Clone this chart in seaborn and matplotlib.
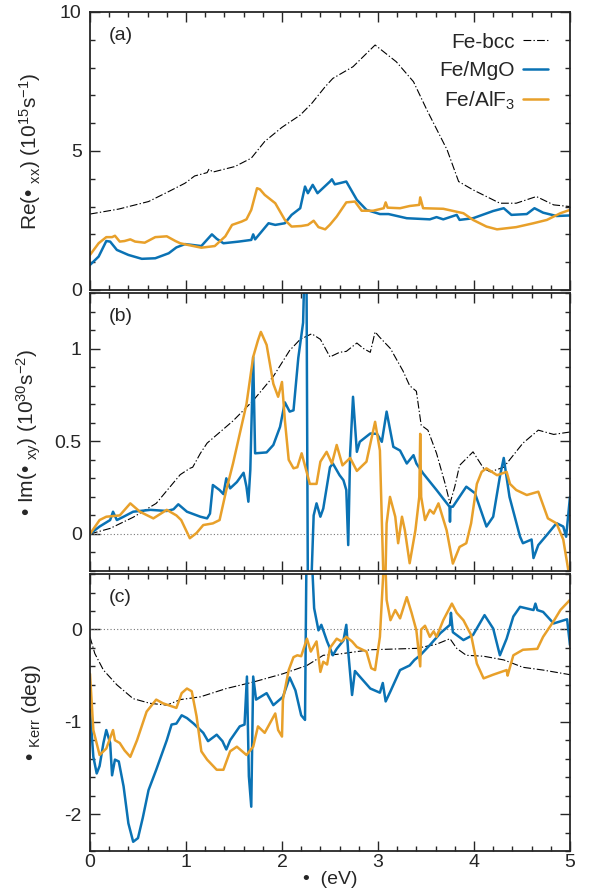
import numpy as np
import matplotlib
matplotlib.use("Agg")
import matplotlib.pyplot as plt
import seaborn as sns
from matplotlib.ticker import MultipleLocator


BLUE = "#0a72b4"
ORANGE = "#e8a02a"
BLACK = "#000000"

# ---- panel (a): Re(sigma_xx) ----
a_bcc_x = [0, 0.30, 0.61, 0.82, 0.99, 1.09, 1.22, 1.24, 1.28, 1.51, 1.68, 1.82, 2.0, 2.19, 2.31,
           2.45, 2.53, 2.74, 2.97, 3.19, 3.37, 3.51, 3.72, 3.84, 3.99, 4.27, 4.44, 4.65, 4.83, 5.0]
a_bcc_y = [2.73, 2.91, 3.18, 3.54, 3.84, 4.10, 4.22, 4.35, 4.24, 4.44, 4.74, 5.34, 5.85, 6.29, 6.71,
           7.31, 7.61, 8.03, 8.81, 8.21, 7.49, 6.47, 5.04, 3.90, 3.60, 3.12, 3.12, 3.36, 3.06, 3.00]

a_mgo_x = [0, 0.09, 0.17, 0.21, 0.28, 0.40, 0.54, 0.68, 0.82, 0.90, 0.99, 1.16, 1.27, 1.32, 1.39,
           1.55, 1.68, 1.70, 1.72, 1.86, 1.93, 2.03, 2.10, 2.19, 2.24, 2.27, 2.32, 2.37, 2.50, 2.52,
           2.55, 2.60, 2.67, 2.71, 2.78, 2.88, 3.02, 3.11, 3.30, 3.54, 3.61, 3.68, 3.82, 3.85, 3.99,
           4.20, 4.31, 4.39, 4.55, 4.63, 4.72, 4.86, 5.0]
a_mgo_y = [0.90, 1.20, 1.76, 1.74, 1.44, 1.26, 1.12, 1.14, 1.32, 1.53, 1.65, 1.58, 2.00, 1.84, 1.68,
           1.74, 1.80, 2.00, 1.82, 2.40, 2.34, 2.40, 2.70, 2.94, 3.72, 3.48, 3.78, 3.48, 3.90, 3.98,
           3.80, 3.84, 3.90, 3.66, 3.24, 2.88, 2.73, 2.73, 2.58, 2.54, 2.62, 2.54, 2.70, 2.52, 2.58,
           2.84, 2.94, 2.70, 2.73, 2.94, 2.78, 2.66, 2.68]

a_alf_x = [0, 0.09, 0.17, 0.23, 0.26, 0.31, 0.36, 0.42, 0.47, 0.57, 0.68, 0.80, 0.89, 0.94, 1.02,
           1.16, 1.30, 1.41, 1.48, 1.58, 1.63, 1.68, 1.74, 1.77, 1.82, 1.93, 2.03, 2.10, 2.20, 2.27,
           2.33, 2.38, 2.45, 2.50, 2.57, 2.67, 2.76, 2.83, 2.95, 3.06, 3.08, 3.10, 3.23, 3.33, 3.43,
           3.44, 3.47, 3.68, 3.89, 3.99, 4.13, 4.24, 4.44, 4.62, 4.76, 4.90, 5.0]
a_alf_y = [1.26, 1.68, 1.90, 1.90, 1.95, 1.74, 1.76, 1.82, 1.74, 1.70, 1.90, 1.93, 1.76, 1.68, 1.62,
           1.52, 1.58, 1.93, 2.34, 2.46, 2.54, 2.88, 3.66, 3.62, 3.42, 3.12, 2.52, 2.28, 2.30, 2.34,
           2.49, 2.26, 2.18, 2.35, 2.64, 3.15, 3.18, 2.85, 2.85, 2.94, 3.15, 2.96, 2.94, 3.02, 3.06,
           3.33, 2.94, 2.92, 2.76, 2.52, 2.28, 2.18, 2.26, 2.40, 2.52, 2.76, 2.88]

# ---- panel (b): omega Im(sigma_xy) ----
b_bcc_x = [0, 0.21, 0.45, 0.69, 0.94, 1.04, 1.07, 1.15, 1.22, 1.49, 1.70, 1.91, 2.08, 2.19, 2.31,
           2.40, 2.50, 2.60, 2.67, 2.78, 2.85, 2.92, 2.97, 3.02, 3.13, 3.26, 3.33, 3.40, 3.45, 3.52,
           3.61, 3.70, 3.75, 3.80, 3.85, 3.99, 4.10, 4.17, 4.31, 4.51, 4.67, 4.83, 5.0]
b_bcc_y = [0, 0.03, 0.09, 0.165, 0.32, 0.354, 0.36, 0.435, 0.49, 0.61, 0.72, 0.85, 0.99, 1.05, 1.08,
           1.05, 0.955, 0.98, 0.985, 1.03, 1.00, 0.98, 1.09, 1.06, 1.00, 0.88, 0.80, 0.77, 0.587, 0.56,
           0.435, 0.27, 0.165, 0.255, 0.37, 0.443, 0.354, 0.335, 0.36, 0.49, 0.56, 0.537, 0.55]

b_mgo_x = [0, 0.10, 0.21, 0.24, 0.28, 0.35, 0.45, 0.63, 0.80, 0.87, 0.92, 1.01, 1.15, 1.22, 1.25,
           1.28, 1.35, 1.39, 1.42, 1.46, 1.53, 1.60, 1.63, 1.65, 1.67, 1.70, 1.72, 1.84, 1.91, 1.98,
           2.03, 2.08, 2.12, 2.17, 2.22, 2.235, 2.255, 2.27, 2.30, 2.33, 2.36, 2.40, 2.43, 2.50, 2.53,
           2.60, 2.64, 2.67, 2.69, 2.71, 2.74, 2.78, 2.81, 2.92, 2.99, 3.04, 3.09, 3.16, 3.23, 3.30,
           3.37, 3.40, 3.47, 3.61, 3.745, 3.75, 3.755, 3.78, 3.92, 4.01, 4.13, 4.20, 4.27, 4.31, 4.37,
           4.48, 4.51, 4.60, 4.62, 4.67, 4.76, 4.86, 4.93, 4.96, 5.0]
b_mgo_y = [0, 0.04, 0.075, 0.12, 0.075, 0.093, 0.12, 0.13, 0.124, 0.133, 0.16, 0.12, 0.093, 0.084, 0.11,
           0.264, 0.237, 0.215, 0.30, 0.246, 0.28, 0.33, 0.255, 0.174, 0.345, 0.955, 0.435, 0.44, 0.48, 0.578,
           0.71, 0.66, 0.667, 0.95, 1.14, 1.45, 1.45, -0.35, -0.35, 0.10, 0.165, 0.093, 0.137, 0.36, 0.38,
           0.317, 0.29, 0.237, -0.06, 0.435, 0.74, 0.443, 0.497, 0.542, 0.54, 0.497, 0.66, 0.47, 0.45, 0.38,
           0.425, 0.38, 0.327, 0.237, 0.147, 0.066, 0.147, 0.147, 0.255, 0.22, 0.04, 0.093, 0.31, 0.41, 0.2,
           -0.015, -0.05, -0.03, -0.13, -0.06, -0.005, 0.058, 0.04, -0.015, 0.2]

b_alf_x = [0, 0.10, 0.17, 0.31, 0.42, 0.52, 0.66, 0.80, 0.90, 0.95, 1.04, 1.11, 1.18, 1.28, 1.35,
           1.42, 1.49, 1.56, 1.63, 1.70, 1.75, 1.78, 1.84, 1.91, 1.96, 2.00, 2.03, 2.07, 2.12, 2.16,
           2.205, 2.29, 2.36, 2.40, 2.465, 2.52, 2.57, 2.63, 2.71, 2.78, 2.88, 2.97, 3.02, 3.06, 3.075,
           3.09, 3.125, 3.18, 3.21, 3.25, 3.28, 3.33, 3.39, 3.43, 3.44, 3.45, 3.49, 3.54, 3.58, 3.63,
           3.715, 3.78, 3.85, 3.92, 3.97, 4.03, 4.08, 4.13, 4.24, 4.34, 4.375, 4.44, 4.55, 4.67, 4.77,
           4.86, 4.93, 5.0]
b_alf_y = [0, 0.075, 0.093, 0.10, 0.165, 0.12, 0.084, 0.13, 0.10, 0.075, -0.023, 0.005, 0.048, 0.057, 0.075,
           0.237, 0.38, 0.54, 0.70, 0.955, 1.045, 1.09, 1.02, 0.81, 0.74, 0.82, 0.614, 0.40, 0.354, 0.36,
           0.435, 0.27, 0.27, 0.39, 0.443, 0.38, 0.48, 0.37, 0.41, 0.34, 0.39, 0.605, 0.45, -0.3, -0.3,
           0.057, 0.2, 0.093, -0.05, 0.093, 0.02, -0.158, 0.02, 0.2, 0.54, 0.2, 0.075, 0.13, 0.11, 0.165,
           0.02, -0.16, -0.07, -0.05, 0.057, 0.27, 0.335, 0.354, 0.317, 0.335, 0.27, 0.237, 0.21, 0.228, 0.084,
           0.057, -0.03, -0.25]

# ---- panel (c): Kerr angle ----
c_bcc_x = [0, 0.05, 0.14, 0.28, 0.45, 0.625, 0.80, 0.94, 1.15, 1.42, 1.70, 2.01, 2.26, 2.43, 2.57,
           2.92, 3.40, 3.61, 3.75, 3.82, 3.92, 4.10, 4.31, 4.51, 4.72, 5.0]
c_bcc_y = [-0.08, -0.26, -0.44, -0.60, -0.75, -0.80, -0.82, -0.76, -0.73, -0.64, -0.57, -0.48, -0.39, -0.28, -0.27,
           -0.22, -0.205, -0.16, -0.10, -0.205, -0.28, -0.29, -0.33, -0.41, -0.44, -0.49]

c_mgo_x = [0, 0.035, 0.07, 0.10, 0.14, 0.17, 0.21, 0.23, 0.26, 0.30, 0.35, 0.40, 0.45, 0.50, 0.55,
           0.61, 0.69, 0.80, 0.85, 0.90, 0.955, 1.01, 1.08, 1.18, 1.23, 1.32, 1.38, 1.42, 1.46, 1.56,
           1.61, 1.635, 1.655, 1.68, 1.70, 1.73, 1.84, 1.91, 2.01, 2.08, 2.14, 2.20, 2.24, 2.255, 2.31,
           2.335, 2.38, 2.41, 2.47, 2.53, 2.57, 2.64, 2.67, 2.69, 2.73, 2.76, 2.81, 2.92, 3.02, 3.05,
           3.08, 3.13, 3.23, 3.33, 3.38, 3.44, 3.54, 3.65, 3.75, 3.76, 3.78, 3.89, 3.99, 4.11, 4.20,
           4.27, 4.34, 4.41, 4.48, 4.62, 4.64, 4.66, 4.72, 4.83, 4.97, 5.0]
c_mgo_y = [-0.87, -1.38, -1.56, -1.48, -1.23, -1.09, -1.23, -1.58, -1.41, -1.43, -1.70, -2.10, -2.30, -2.26, -2.04,
           -1.74, -1.52, -1.20, -1.03, -1.02, -0.93, -0.96, -1.02, -1.12, -1.21, -1.14, -1.21, -1.30, -1.20, -1.05,
           -1.03, -0.51, -1.59, -1.92, -0.51, -0.76, -0.69, -0.82, -0.73, -0.52, -0.66, -0.93, -0.98, 0.8, 0.8,
           0.23, -0.01, 0.05, -0.13, -0.28, -0.21, -0.12, 0.05, -0.24, -0.71, -0.45, -0.51, -0.64, -0.685, -0.58,
           -0.78, -0.67, -0.44, -0.39, -0.33, -0.28, -0.17, -0.04, 0.05, 0.18, -0.03, -0.115, -0.06, 0.155, 0.01,
           -0.28, -0.10, 0.14, 0.245, 0.21, 0.28, 0.21, 0.19, 0.065, 0.11, -0.17]

c_alf_x = [0, 0.035, 0.10, 0.17, 0.24, 0.26, 0.31, 0.36, 0.42, 0.49, 0.59, 0.69, 0.76, 0.90, 0.955,
           1.01, 1.06, 1.11, 1.16, 1.22, 1.32, 1.39, 1.46, 1.53, 1.63, 1.70, 1.75, 1.82, 1.93, 1.96,
           2.00, 2.01, 2.07, 2.12, 2.16, 2.20, 2.26, 2.30, 2.36, 2.40, 2.43, 2.47, 2.50, 2.57, 2.62,
           2.67, 2.73, 2.78, 2.88, 2.93, 2.97, 3.02, 3.065, 3.075, 3.09, 3.13, 3.18, 3.23, 3.30, 3.35,
           3.40, 3.44, 3.45, 3.49, 3.54, 3.58, 3.61, 3.68, 3.77, 3.82, 3.89, 3.97, 4.03, 4.10, 4.20,
           4.34, 4.35, 4.41, 4.51, 4.66, 4.72, 4.83, 4.90, 5.0]
c_alf_y = [-0.48, -1.09, -1.36, -1.29, -1.09, -1.20, -1.23, -1.31, -1.38, -1.20, -0.89, -0.76, -0.80, -0.85, -0.69,
           -0.64, -0.67, -0.94, -1.32, -1.41, -1.52, -1.52, -1.32, -1.27, -1.36, -1.27, -1.05, -1.12, -0.91, -1.09,
           -1.16, -0.76, -0.44, -0.30, -0.28, -0.29, -0.10, -0.24, -0.13, -0.46, -0.35, -0.38, -0.20, -0.10, -0.13,
           -0.08, -0.13, -0.19, -0.24, -0.42, -0.44, -0.08, 0.8, 0.8, 0.32, 0.10, 0.21, 0.12, 0.35, 0.18,
           -0.01, -0.40, 0.0, 0.04, -0.08, -0.02, -0.08, 0.10, 0.28, 0.18, 0.10, -0.06, -0.37, -0.53, -0.49,
           -0.44, -0.50, -0.28, -0.22, -0.21, -0.08, 0.09, 0.21, 0.32]

series_labels = ["Fe-bcc", "Fe/MgO", "Fe/AlF$_3$"]

sns.set_style("ticks")
plt.rcParams["font.family"] = ["Liberation Sans", "DejaVu Sans"]
plt.rcParams["mathtext.fontset"] = "custom"
plt.rcParams["mathtext.rm"] = "Liberation Sans"
plt.rcParams["mathtext.it"] = "Liberation Sans:italic"
plt.rcParams["mathtext.default"] = "rm"
plt.rcParams["axes.unicode_minus"] = False

fig = plt.figure(figsize=(5.92, 8.90), dpi=100)
fig.patch.set_facecolor("white")

left, width = 0.152, 0.8108
ax_a = fig.add_axes([left, 0.6742, width, 0.3124])
ax_b = fig.add_axes([left, 0.3584, width, 0.3124])
ax_c = fig.add_axes([left, 0.0438, width, 0.3112])

dashdot = (0, (7, 2, 1.2, 2))

panels = [
    (ax_a, (a_bcc_x, a_bcc_y), (a_mgo_x, a_mgo_y), (a_alf_x, a_alf_y)),
    (ax_b, (b_bcc_x, b_bcc_y), (b_mgo_x, b_mgo_y), (b_alf_x, b_alf_y)),
    (ax_c, (c_bcc_x, c_bcc_y), (c_mgo_x, c_mgo_y), (c_alf_x, c_alf_y)),
]

for i, (ax, bcc, mgo, alf) in enumerate(panels):
    first = i == 0
    if not first:
        ax.axhline(0, color="#777777", linestyle=(0, (1, 2)), linewidth=0.8, zorder=1)
    sns.lineplot(x=np.array(bcc[0]), y=np.array(bcc[1]), ax=ax, color=BLACK,
                 linewidth=0.8, linestyle=dashdot, estimator=None, sort=False,
                 label=series_labels[0] if first else None, legend=False)
    sns.lineplot(x=np.array(mgo[0]), y=np.array(mgo[1]), ax=ax, color=BLUE,
                 linewidth=1.8, estimator=None, sort=False,
                 label=series_labels[1] if first else None, legend=False)
    sns.lineplot(x=np.array(alf[0]), y=np.array(alf[1]), ax=ax, color=ORANGE,
                 linewidth=1.8, estimator=None, sort=False,
                 label=series_labels[2] if first else None, legend=False)

    ax.set_xlim(0, 5)
    ax.xaxis.set_major_locator(MultipleLocator(1))
    ax.xaxis.set_minor_locator(MultipleLocator(0.2))
    ax.tick_params(which="both", direction="in", top=True, right=True, width=1.0)
    ax.tick_params(which="major", length=7, labelsize=14)
    ax.tick_params(axis="y", which="major", pad=6)
    ax.tick_params(axis="x", which="major", pad=2)
    ax.tick_params(which="minor", length=3.5)
    for sp in ax.spines.values():
        sp.set_linewidth(1.3)
    if ax is not ax_c:
        ax.tick_params(labelbottom=False)
    ax.set_xlabel("")

ax_a.set_ylim(0, 10)
ax_a.yaxis.set_major_locator(MultipleLocator(5))
ax_a.yaxis.set_minor_locator(MultipleLocator(1))

ax_b.set_ylim(-0.2, 1.3)
ax_b.set_yticks([0, 0.5, 1])
ax_b.set_yticklabels(["0", "0.5", "1"])
ax_b.yaxis.set_minor_locator(MultipleLocator(0.1))

ax_c.set_ylim(-2.4, 0.6)
ax_c.set_yticks([-2, -1, 0])
ax_c.yaxis.set_minor_locator(MultipleLocator(0.2))

ax_a.set_ylabel("Re(• $_{xx}$) (10$^{15}$s$^{-1}$)", fontsize=15)
ax_b.set_ylabel("• Im(• $_{xy}$) (10$^{30}$s$^{-2}$)", fontsize=15)
ax_c.set_ylabel("• $_{Kerr}$ (deg)", fontsize=15)
ax_c.set_xlabel("•  (eV)", fontsize=14, labelpad=0)
for ax in (ax_a, ax_b, ax_c):
    ax.yaxis.set_label_coords(-0.097, 0.5)

for ax, tag in zip((ax_a, ax_b, ax_c), ("(a)", "(b)", "(c)")):
    ax.text(0.04, 0.945, tag, transform=ax.transAxes, ha="left", va="top", fontsize=14)

ax_a.legend(loc="upper right", bbox_to_anchor=(0.955, 0.925), frameon=False,
            markerfirst=False, fontsize=15, handlelength=1.2, handletextpad=0.4,
            labelspacing=0.45, borderaxespad=0, borderpad=0)

fig.savefig("out.png", dpi=100, facecolor="white")
plt.close(fig)
